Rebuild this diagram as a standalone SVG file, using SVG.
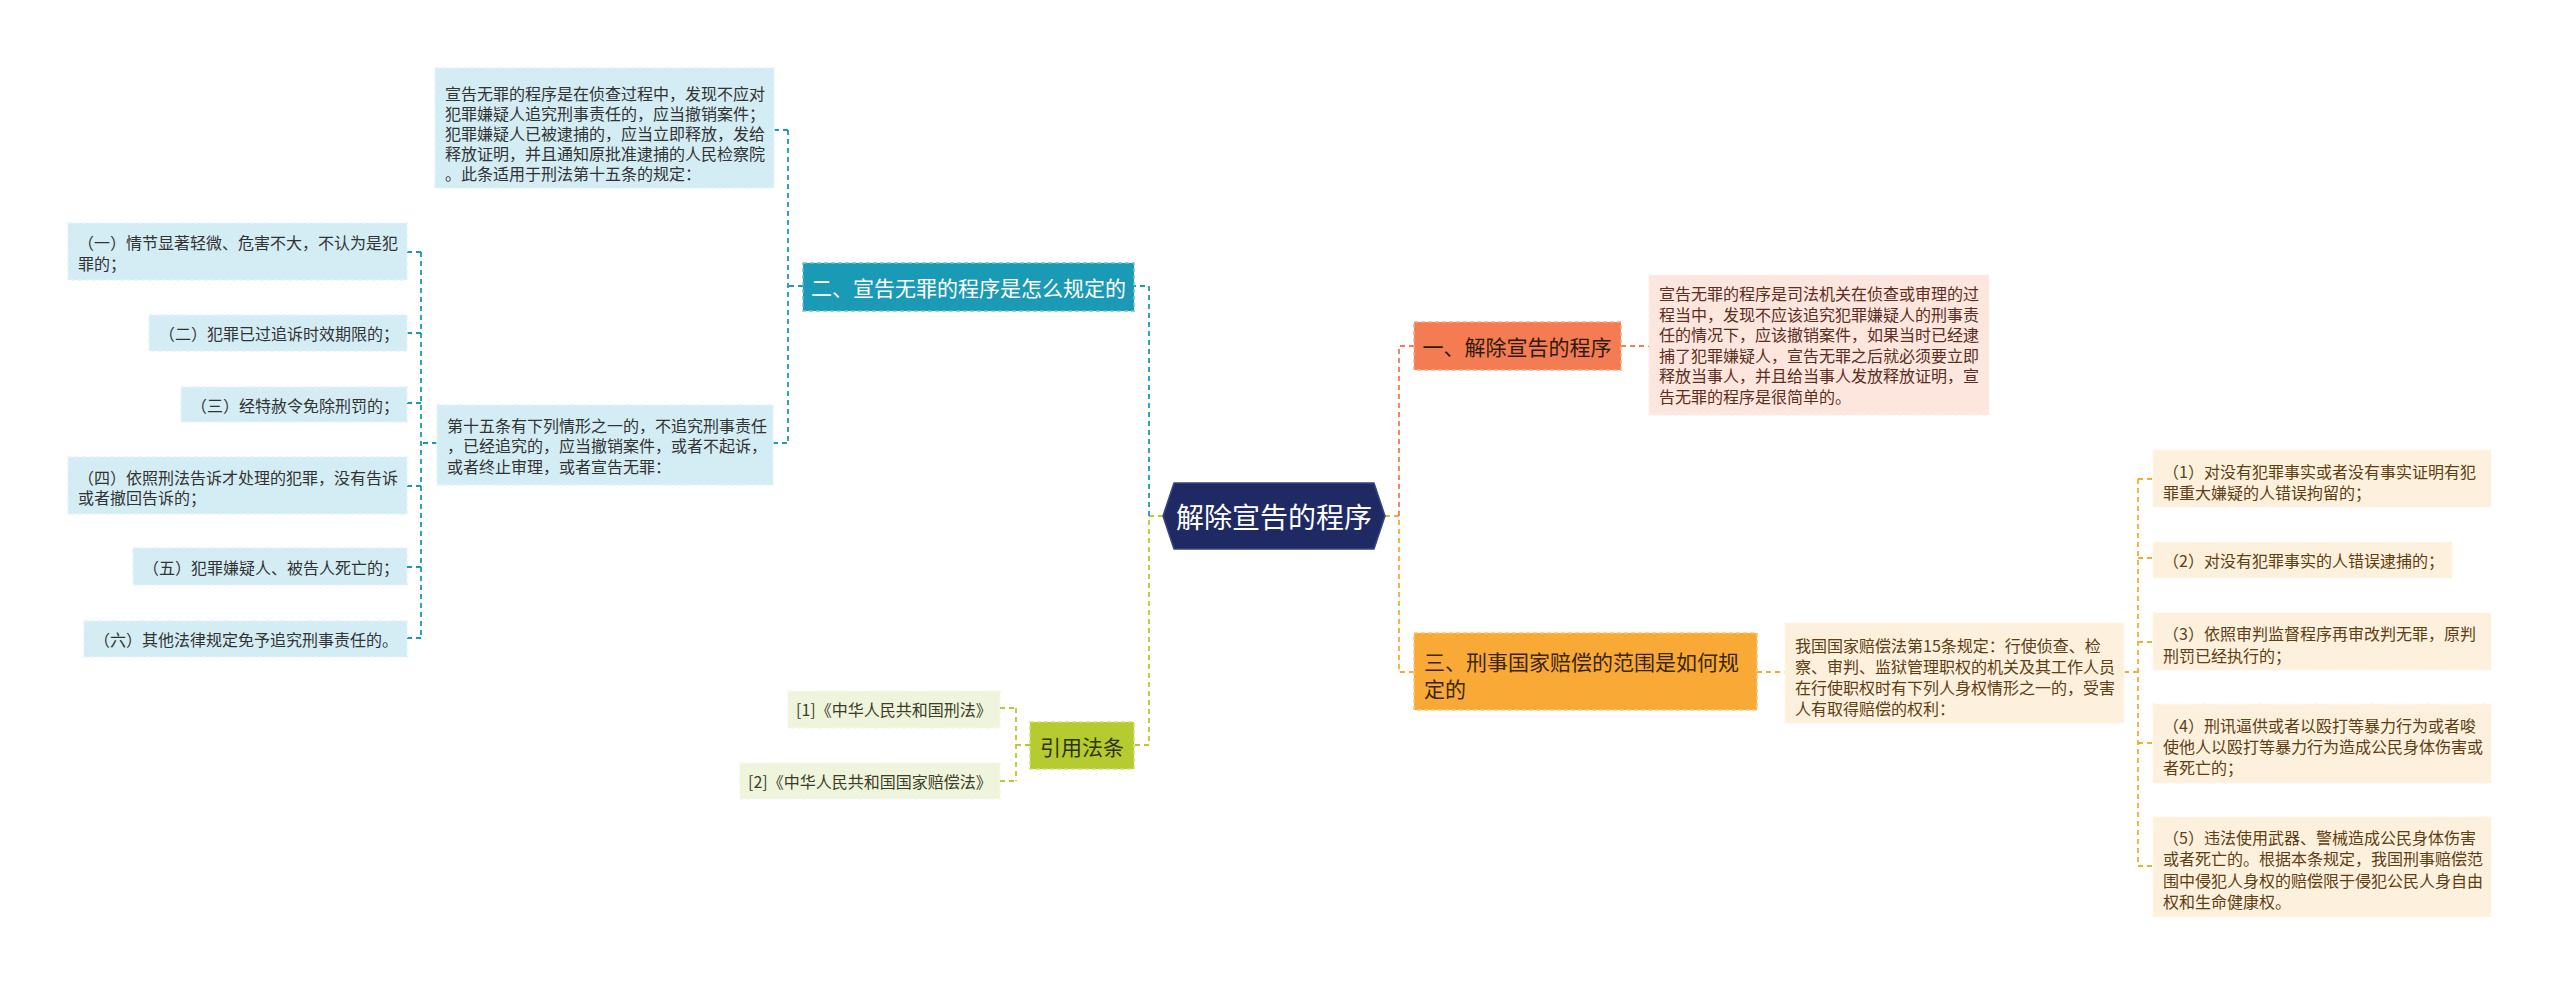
<svg xmlns="http://www.w3.org/2000/svg" width="2560" height="985" viewBox="0 0 2560 985">
<style>
text{font-family:"Noto Sans CJK SC","Liberation Sans",sans-serif;dominant-baseline:central}
.leaf{font-size:16px}
.main{font-size:21px}
.c{fill:none;stroke-width:1.8;stroke-dasharray:5 4}
.cb{stroke:#1b9ab6}.cg{stroke:#b5cb30}.cr{stroke:#f47c52}.co{stroke:#f9aa36}
.lb{fill:#d4edf5;stroke:#e4f3f8;stroke-width:1.5;stroke-dasharray:4 3}
.lp{fill:#fde6dd;stroke:#fef0ea;stroke-width:1.5;stroke-dasharray:4 3}
.lc{fill:#fdf0dc;stroke:#fef6ea;stroke-width:1.5;stroke-dasharray:4 3}
.lg{fill:#eff4dd;stroke:#f5f8ea;stroke-width:1.5;stroke-dasharray:4 3}
.tb{fill:#333333}.tp{fill:#5b2f1f}.tc{fill:#5e3f14}.tg{fill:#3d3d2a}
</style>
<rect width="2560" height="985" fill="#ffffff"/>

<g id="connectors">
  <path class="c cg" d="M1163,516 H1149 V745 H1134"/>
  <path class="c cb" d="M1149,516 V286 H1134"/>
  <path class="c cb" d="M803,286 H788"/>
  <path class="c cb" d="M788,130 V443"/>
  <path class="c cb" d="M774,130 H788"/>
  <path class="c cb" d="M773,443 H788"/>
  <path class="c cb" d="M437,443 H421"/>
  <path class="c cb" d="M421,252 V638"/>
  <path class="c cb" d="M407,252 H421 M407,333 H421 M407,403 H421 M407,486 H421 M407,567 H421 M407,638 H421"/>
  <path class="c cg" d="M1030,745 H1016"/>
  <path class="c cg" d="M1016,708 V781"/>
  <path class="c cg" d="M1000,708 H1016 M1000,781 H1016"/>
  <path class="c co" d="M1385,516 H1399 V672 H1414"/>
  <path class="c cr" d="M1399,516 V346 H1414"/>
  <path class="c cr" d="M1621,346 H1649"/>
  <path class="c co" d="M1757,672 H1785"/>
  <path class="c co" d="M2124,672 H2138"/>
  <path class="c co" d="M2138,479 V866"/>
  <path class="c co" d="M2138,479 H2153 M2138,558 H2153 M2138,642 H2153 M2138,743 H2153 M2138,866 H2153"/>
</g>

<g id="center">
  <polygon points="1163,516 1174,483 1374,483 1385,516 1374,549 1174,549" fill="#1f2a64" stroke="#3a4680" stroke-width="1.5"/>
  <text x="1274" y="516" font-size="28" fill="#ffffff" text-anchor="middle">解除宣告的程序</text>
</g>

<g id="n1">
  <rect x="1414" y="322" width="207" height="48" fill="#f47c52" stroke="#f9a88a" stroke-width="1.5" stroke-dasharray="4 3"/>
  <text class="main" x="1517" y="346" fill="#2f1a10" text-anchor="middle">一、解除宣告的程序</text>
</g>

<g id="n1a">
  <rect class="lp" x="1649" y="275" width="340" height="140"/>
  <text class="leaf tp" x="1659" y="293">宣告无罪的程序是司法机关在侦查或审理的过</text>
  <text class="leaf tp" x="1659" y="313.5">程当中，发现不应该追究犯罪嫌疑人的刑事责</text>
  <text class="leaf tp" x="1659" y="334">任的情况下，应该撤销案件，如果当时已经逮</text>
  <text class="leaf tp" x="1659" y="354.5">捕了犯罪嫌疑人，宣告无罪之后就必须要立即</text>
  <text class="leaf tp" x="1659" y="375">释放当事人，并且给当事人发放释放证明，宣</text>
  <text class="leaf tp" x="1659" y="395.5">告无罪的程序是很简单的。</text>
</g>

<g id="n3">
  <rect x="1414" y="633" width="343" height="77" fill="#f9aa36" stroke="#fbc677" stroke-width="1.5" stroke-dasharray="4 3"/>
  <text class="main" x="1424" y="661" fill="#3b2608">三、刑事国家赔偿的范围是如何规</text>
  <text class="main" x="1424" y="688" fill="#3b2608">定的</text>
</g>

<g id="n3a">
  <rect class="lc" x="1785" y="623" width="339" height="100"/>
  <text class="leaf tc" x="1795" y="645">我国国家赔偿法第15条规定：行使侦查、检</text>
  <text class="leaf tc" x="1795" y="666">察、审判、监狱管理职权的机关及其工作人员</text>
  <text class="leaf tc" x="1795" y="687">在行使职权时有下列人身权情形之一的，受害</text>
  <text class="leaf tc" x="1795" y="708">人有取得赔偿的权利：</text>
</g>

<g id="r1">
  <rect class="lc" x="2153" y="450" width="338" height="57"/>
  <text class="leaf tc" x="2163" y="471">（1）对没有犯罪事实或者没有事实证明有犯</text>
  <text class="leaf tc" x="2163" y="492">罪重大嫌疑的人错误拘留的；</text>
</g>
<g id="r2">
  <rect class="lc" x="2153" y="542" width="299" height="36"/>
  <text class="leaf tc" x="2163" y="560">（2）对没有犯罪事实的人错误逮捕的；</text>
</g>
<g id="r3">
  <rect class="lc" x="2153" y="613" width="338" height="57"/>
  <text class="leaf tc" x="2163" y="633">（3）依照审判监督程序再审改判无罪，原判</text>
  <text class="leaf tc" x="2163" y="655">刑罚已经执行的；</text>
</g>
<g id="r4">
  <rect class="lc" x="2153" y="704" width="338" height="79"/>
  <text class="leaf tc" x="2163" y="725">（4）刑讯逼供或者以殴打等暴力行为或者唆</text>
  <text class="leaf tc" x="2163" y="746">使他人以殴打等暴力行为造成公民身体伤害或</text>
  <text class="leaf tc" x="2163" y="767">者死亡的；</text>
</g>
<g id="r5">
  <rect class="lc" x="2153" y="817" width="338" height="100"/>
  <text class="leaf tc" x="2163" y="837">（5）违法使用武器、警械造成公民身体伤害</text>
  <text class="leaf tc" x="2163" y="858">或者死亡的。根据本条规定，我国刑事赔偿范</text>
  <text class="leaf tc" x="2163" y="880">围中侵犯人身权的赔偿限于侵犯公民人身自由</text>
  <text class="leaf tc" x="2163" y="901">权和生命健康权。</text>
</g>

<g id="n2">
  <rect x="803" y="263" width="331" height="48" fill="#1b9ab6" stroke="#6cc0d3" stroke-width="1.5" stroke-dasharray="4 3"/>
  <text class="main" x="968.5" y="287" fill="#ffffff" text-anchor="middle">二、宣告无罪的程序是怎么规定的</text>
</g>

<g id="n2a">
  <rect class="lb" x="435" y="68" width="339" height="120"/>
  <text class="leaf tb" x="445" y="93">宣告无罪的程序是在侦查过程中，发现不应对</text>
  <text class="leaf tb" x="445" y="113">犯罪嫌疑人追究刑事责任的，应当撤销案件；</text>
  <text class="leaf tb" x="445" y="133">犯罪嫌疑人已被逮捕的，应当立即释放，发给</text>
  <text class="leaf tb" x="445" y="153">释放证明，并且通知原批准逮捕的人民检察院</text>
  <text class="leaf tb" x="445" y="173">。此条适用于刑法第十五条的规定：</text>
</g>

<g id="n2b">
  <rect class="lb" x="437" y="405" width="336" height="80"/>
  <text class="leaf tb" x="447" y="425">第十五条有下列情形之一的，不追究刑事责任</text>
  <text class="leaf tb" x="447" y="445">，已经追究的，应当撤销案件，或者不起诉，</text>
  <text class="leaf tb" x="447" y="466">或者终止审理，或者宣告无罪：</text>
</g>

<g id="l1">
  <rect class="lb" x="68" y="223" width="339" height="57"/>
  <text class="leaf tb" x="78" y="242">（一）情节显著轻微、危害不大，不认为是犯</text>
  <text class="leaf tb" x="78" y="263">罪的；</text>
</g>
<g id="l2">
  <rect class="lb" x="149" y="315" width="258" height="36"/>
  <text class="leaf tb" x="159" y="333">（二）犯罪已过追诉时效期限的；</text>
</g>
<g id="l3">
  <rect class="lb" x="181" y="387" width="226" height="35"/>
  <text class="leaf tb" x="191" y="405">（三）经特赦令免除刑罚的；</text>
</g>
<g id="l4">
  <rect class="lb" x="68" y="457" width="339" height="57"/>
  <text class="leaf tb" x="78" y="477">（四）依照刑法告诉才处理的犯罪，没有告诉</text>
  <text class="leaf tb" x="78" y="497">或者撤回告诉的；</text>
</g>
<g id="l5">
  <rect class="lb" x="133" y="548" width="274" height="37"/>
  <text class="leaf tb" x="143" y="567">（五）犯罪嫌疑人、被告人死亡的；</text>
</g>
<g id="l6">
  <rect class="lb" x="84" y="621" width="323" height="36"/>
  <text class="leaf tb" x="94" y="639">（六）其他法律规定免予追究刑事责任的。</text>
</g>

<g id="n4">
  <rect x="1030" y="722" width="104" height="47" fill="#b5cb30" stroke="#d0de7a" stroke-width="1.5" stroke-dasharray="4 3"/>
  <text class="main" x="1082" y="745.5" fill="#2e3308" text-anchor="middle">引用法条</text>
</g>
<g id="ref1">
  <rect class="lg" x="788" y="691" width="212" height="37"/>
  <text class="leaf tg" x="796" y="709">[1]《中华人民共和国刑法》</text>
</g>
<g id="ref2">
  <rect class="lg" x="740" y="763" width="260" height="36"/>
  <text class="leaf tg" x="748" y="781">[2]《中华人民共和国国家赔偿法》</text>
</g>
</svg>
